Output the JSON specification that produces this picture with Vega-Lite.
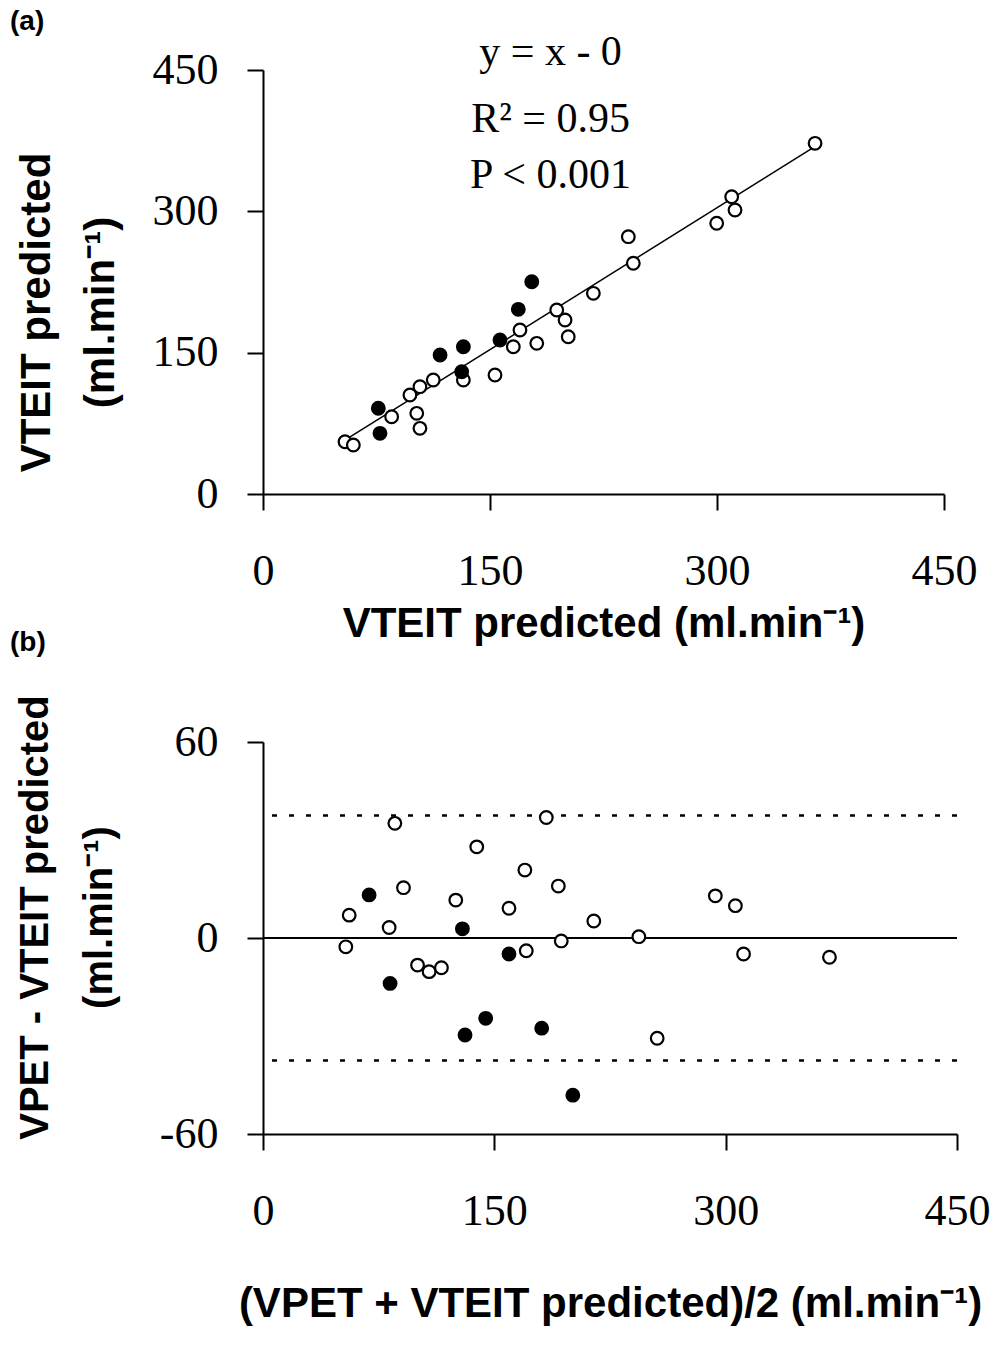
{
  "$schema": "https://vega.github.io/schema/vega-lite/v6.json",
  "background": "white",
  "padding": {"left": 10, "top": 8, "right": 5, "bottom": 5},
  "bounds": "flush",
  "spacing": 248,
  "datasets": {
    "a_pts": [
      {"x": 54.2, "y": 55.5, "g": "open"}, {"x": 59.7, "y": 52.0, "g": "open"}, {"x": 85.0, "y": 82.0, "g": "open"},
      {"x": 97.1, "y": 105.1, "g": "open"}, {"x": 103.7, "y": 113.9, "g": "open"}, {"x": 112.5, "y": 121.0, "g": "open"},
      {"x": 101.6, "y": 85.6, "g": "open"}, {"x": 103.7, "y": 69.7, "g": "open"}, {"x": 132.4, "y": 121.0, "g": "open"},
      {"x": 153.3, "y": 126.3, "g": "open"}, {"x": 165.4, "y": 156.3, "g": "open"}, {"x": 169.8, "y": 174.1, "g": "open"},
      {"x": 180.9, "y": 159.9, "g": "open"}, {"x": 194.1, "y": 195.3, "g": "open"}, {"x": 199.6, "y": 184.7, "g": "open"},
      {"x": 201.7, "y": 166.9, "g": "open"}, {"x": 218.3, "y": 213.0, "g": "open"}, {"x": 241.4, "y": 273.1, "g": "open"},
      {"x": 244.7, "y": 244.9, "g": "open"}, {"x": 299.8, "y": 287.3, "g": "open"}, {"x": 309.7, "y": 315.5, "g": "open"},
      {"x": 311.9, "y": 301.4, "g": "open"}, {"x": 364.8, "y": 372.2, "g": "open"},
      {"x": 76.2, "y": 91.0, "g": "filled"}, {"x": 77.3, "y": 64.4, "g": "filled"}, {"x": 117.0, "y": 147.5, "g": "filled"},
      {"x": 132.4, "y": 156.3, "g": "filled"}, {"x": 131.3, "y": 129.8, "g": "filled"}, {"x": 156.6, "y": 163.4, "g": "filled"},
      {"x": 168.7, "y": 196.0, "g": "filled"}, {"x": 177.6, "y": 225.3, "g": "filled"}
    ],
    "a_fit": [{"x": 52, "y": 55}, {"x": 367, "y": 371}],
    "a_text": [
      {"x": 190, "y": 455, "label": "y = x - 0"},
      {"x": 190, "y": 384, "label": "R² = 0.95"},
      {"x": 190, "y": 325, "label": "P < 0.001"}
    ],
    "b_pts": [
      {"x": 53.7, "y": -2.7, "g": "open"}, {"x": 55.9, "y": 7.0, "g": "open"}, {"x": 81.8, "y": 3.2, "g": "open"},
      {"x": 85.5, "y": 35.1, "g": "open"}, {"x": 91.1, "y": 15.4, "g": "open"}, {"x": 100.2, "y": -8.3, "g": "open"},
      {"x": 107.7, "y": -10.3, "g": "open"}, {"x": 115.7, "y": -9.1, "g": "open"}, {"x": 125.0, "y": 11.6, "g": "open"},
      {"x": 138.6, "y": 27.9, "g": "open"}, {"x": 159.5, "y": 9.1, "g": "open"}, {"x": 169.8, "y": 20.8, "g": "open"},
      {"x": 170.7, "y": -3.9, "g": "open"}, {"x": 183.7, "y": 36.9, "g": "open"}, {"x": 191.5, "y": 15.9, "g": "open"},
      {"x": 193.4, "y": -0.9, "g": "open"}, {"x": 214.5, "y": 5.2, "g": "open"}, {"x": 243.7, "y": 0.4, "g": "open"},
      {"x": 255.6, "y": -30.7, "g": "open"}, {"x": 293.3, "y": 12.9, "g": "open"}, {"x": 306.3, "y": 9.9, "g": "open"},
      {"x": 311.6, "y": -4.9, "g": "open"}, {"x": 367.3, "y": -5.9, "g": "open"},
      {"x": 68.8, "y": 13.2, "g": "filled"}, {"x": 82.4, "y": -13.9, "g": "filled"}, {"x": 129.3, "y": 2.8, "g": "filled"},
      {"x": 159.5, "y": -4.9, "g": "filled"}, {"x": 131.0, "y": -29.7, "g": "filled"}, {"x": 144.4, "y": -24.6, "g": "filled"},
      {"x": 180.7, "y": -27.6, "g": "filled"}, {"x": 200.9, "y": -48.1, "g": "filled"}
    ],
    "b_limits": [{"y": 37.5}, {"y": -37.5}],
    "b_zero": [{"y": 0}]
  },
  "config": {
    "view": {"stroke": null},
    "axis": {
      "grid": false,
      "domainColor": "black", "domainWidth": 2,
      "tickColor": "black", "tickWidth": 2, "tickSize": 16,
      "labelFont": "Liberation Serif", "labelFontSize": 44, "labelColor": "black",
      "labelFlush": false, "labelOverlap": false, "labelBound": false,
      "labelExpr": "replace(datum.label, '−', '-')",
      "titleFont": "Liberation Sans", "titleFontWeight": "bold", "titleColor": "black", "titleFontSize": 42
    },
    "axisX": {"labelPadding": 39},
    "axisY": {"labelPadding": 29},
    "title": {"font": "Liberation Sans", "fontSize": 28, "fontWeight": "bold", "color": "black", "anchor": "start", "frame": "group", "baseline": "alphabetic"}
  },
  "vconcat": [
    {
      "width": 681,
      "height": 424,
      "title": {"text": "(a)", "dx": -253, "offset": -5},
      "encoding": {
        "x": {"field": "x", "type": "quantitative", "scale": {"domain": [0, 450], "nice": false},
              "axis": {"values": [0, 150, 300, 450], "title": "VTEIT predicted (ml.min⁻¹)", "titlePadding": 10}},
        "y": {"field": "y", "type": "quantitative", "scale": {"domain": [0, 450], "nice": false},
              "axis": {"values": [0, 150, 300, 450], "title": ["VTEIT predicted", "(ml.min⁻¹)"], "titleY": 242, "titlePadding": 30, "titleLineHeight": 64, "titleFontSize": 42}}
      },
      "layer": [
        {"data": {"name": "a_fit"}, "mark": {"type": "line", "color": "black", "strokeWidth": 1.5}},
        {"data": {"name": "a_pts"}, "mark": {"type": "point", "shape": "circle", "filled": true, "stroke": "black", "strokeWidth": 2.2, "size": 160, "opacity": 1},
         "encoding": {"fill": {"field": "g", "type": "nominal", "scale": {"domain": ["open", "filled"], "range": ["white", "black"]}, "legend": null}}},
        {"data": {"name": "a_text"}, "mark": {"type": "text", "font": "Liberation Serif", "fontSize": 42, "color": "black", "align": "center", "baseline": "alphabetic"},
         "encoding": {"text": {"field": "label", "type": "nominal"}}}
      ]
    },
    {
      "width": 694,
      "height": 392,
      "title": {"text": "(b)", "dx": -253, "offset": 38},
      "encoding": {
        "y": {"field": "y", "type": "quantitative", "scale": {"domain": [-60, 60], "nice": false},
              "axis": {"values": [-60, 0, 60], "title": ["VPET - VTEIT predicted", "(ml.min⁻¹)"], "titleY": 175, "titlePadding": 40, "titleLineHeight": 64, "titleFontSize": 40}}
      },
      "layer": [
        {"data": {"name": "b_limits"}, "mark": {"type": "rule", "color": "black", "strokeWidth": 2.5, "strokeDash": [5, 12]}},
        {"data": {"name": "b_zero"}, "mark": {"type": "rule", "color": "black", "strokeWidth": 2}},
        {"data": {"name": "b_pts"}, "mark": {"type": "point", "shape": "circle", "filled": true, "stroke": "black", "strokeWidth": 2.2, "size": 160, "opacity": 1},
         "encoding": {
           "x": {"field": "x", "type": "quantitative", "scale": {"domain": [0, 450], "nice": false},
                 "axis": {"values": [0, 150, 300, 450], "title": "(VPET + VTEIT predicted)/2 (ml.min⁻¹)", "titlePadding": 50}},
           "fill": {"field": "g", "type": "nominal", "scale": {"domain": ["open", "filled"], "range": ["white", "black"]}, "legend": null}}}
      ]
    }
  ]
}
